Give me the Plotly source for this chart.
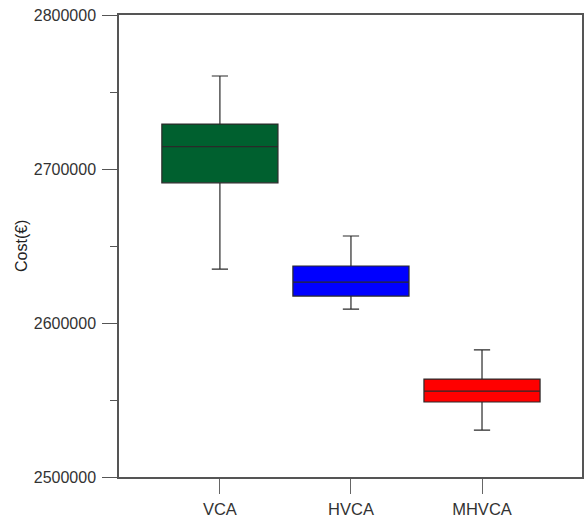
import plotly.graph_objects as go

categories = ["VCA", "HVCA", "MHVCA"]
lower = [2635000, 2609000, 2530500]
q1 = [2691000, 2617500, 2548700]
median = [2714500, 2626600, 2555800]
q3 = [2729200, 2637000, 2563600]
upper = [2760400, 2656500, 2582500]
colors = ["#00602F", "#0000FF", "#FF0000"]

fig = go.Figure()
for i, c in enumerate(categories):
    fig.add_trace(go.Box(
        x=[c], q1=[q1[i]], median=[median[i]], q3=[q3[i]],
        lowerfence=[lower[i]], upperfence=[upper[i]],
        fillcolor=colors[i], line=dict(color="#2a2a2a", width=1.2),
        width=0.886, whiskerwidth=0.14, boxpoints=False, showlegend=False,
        hoverinfo="y"))

fig.update_layout(
    width=585, height=521,
    margin=dict(l=119, r=3, t=15, b=44),
    paper_bgcolor="white", plot_bgcolor="white",
    boxmode="overlay",
    font=dict(family="Liberation Sans, Arial", size=16, color="#333"),
    showlegend=False,
)
fig.update_xaxes(
    type="category", range=[-0.77, 2.763], automargin=False,
    showline=True, mirror=True, linecolor="#555", linewidth=1.5,
    ticks="outside", ticklen=15, tickcolor="#666", tickwidth=1.2,
    ticklabelstandoff=1,
    showgrid=False, zeroline=False, tickfont=dict(size=16.5, color="#333"),
)
fig.update_yaxes(
    range=[2500000, 2800000], tick0=2500000, dtick=100000, tickformat="d",
    automargin=False,
    showline=True, mirror=True, linecolor="#555", linewidth=1.5,
    ticks="outside", ticklen=15, tickcolor="#555", tickwidth=1.2,
    ticklabelstandoff=3,
    minor=dict(ticks="outside", ticklen=7, dtick=50000, tick0=2500000, tickcolor="#555", tickwidth=1.2),
    showgrid=False, zeroline=False, tickfont=dict(size=16, color="#333"),
)
fig.add_annotation(
    text="Cost(€)", xref="paper", yref="paper", x=0, y=0.5,
    xanchor="center", yanchor="middle", xshift=-98, textangle=-90,
    showarrow=False, font=dict(size=16, color="#222"),
)

fig.write_html("out.html", config={"displayModeBar": False},
               post_script="document.body.style.margin='0';document.body.style.padding='0';")
